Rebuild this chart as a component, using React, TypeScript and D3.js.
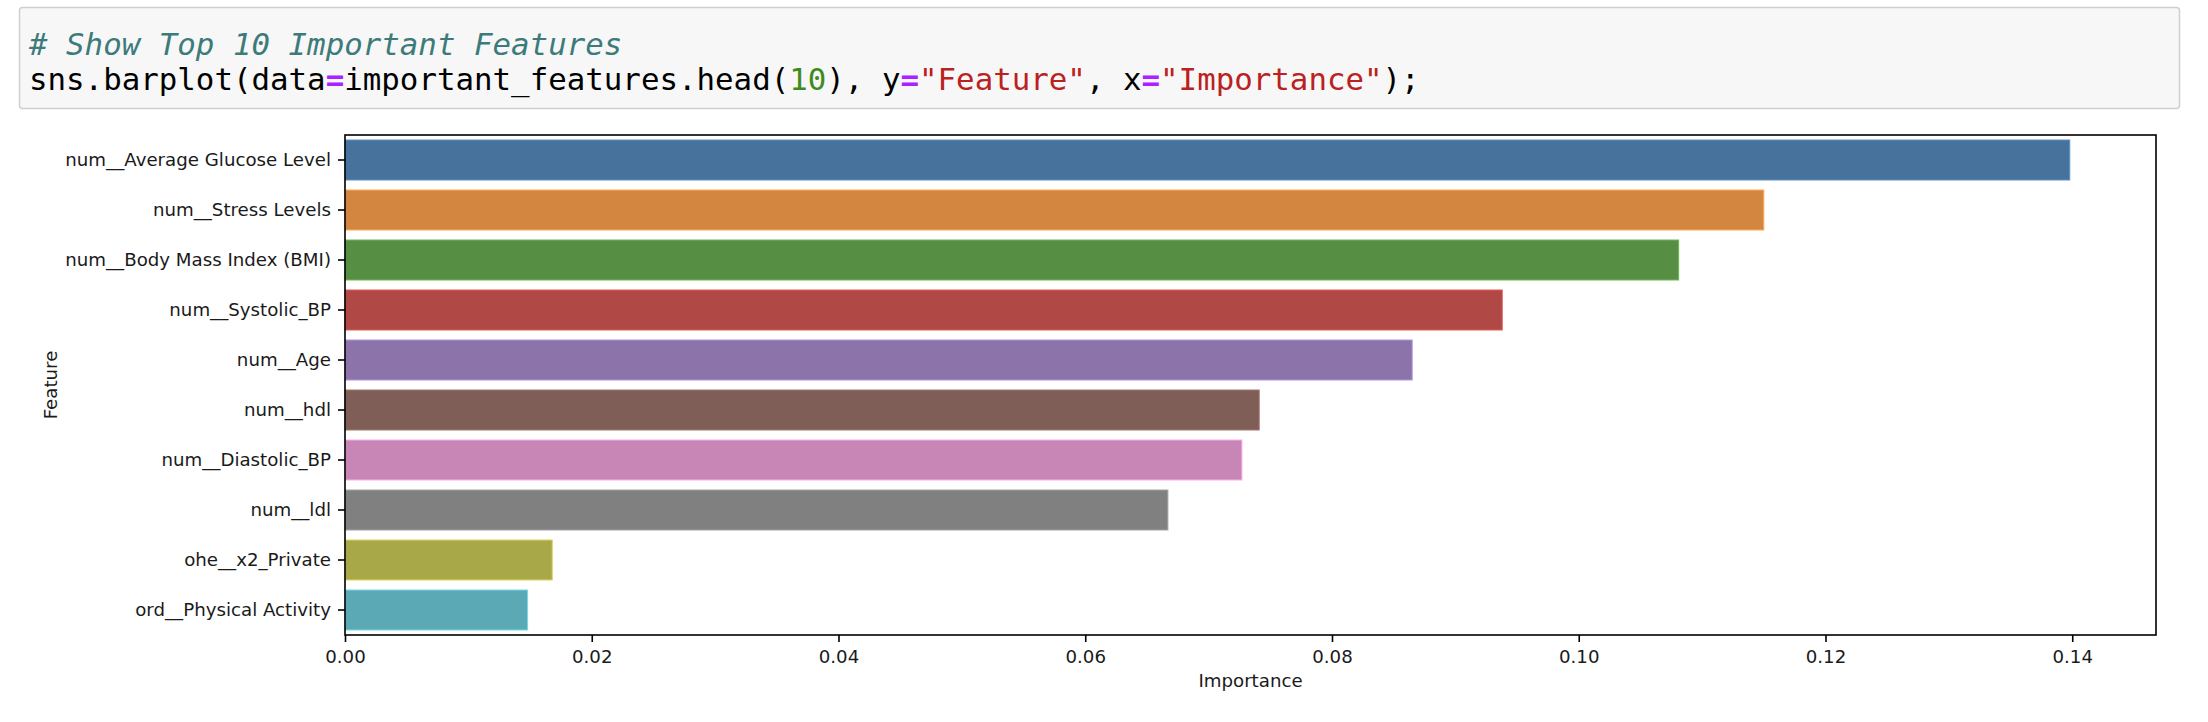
import { useEffect, useRef } from "react";
import * as d3 from "d3";

const features = [
  "num__Average Glucose Level",
  "num__Stress Levels",
  "num__Body Mass Index (BMI)",
  "num__Systolic_BP",
  "num__Age",
  "num__hdl",
  "num__Diastolic_BP",
  "num__ldl",
  "ohe__x2_Private",
  "ord__Physical Activity",
];
const importance = [0.1398, 0.115, 0.1081, 0.0938, 0.0865, 0.0741, 0.0727, 0.0667, 0.0168, 0.0148];
const barColors = [
  "#46729c", "#d28640", "#568f43", "#b04845", "#8c74ab",
  "#7e5e56", "#c886b7", "#808080", "#a9a848", "#5ca9b6",
];
const xTicks = [0, 0.02, 0.04, 0.06, 0.08, 0.1, 0.12, 0.14];

// pieces of the code cell: [text, colour, bold]
const commentLine = "# Show Top 10 Important Features";
const codeParts: [string, string, boolean][] = [
  ["sns.barplot(data", "#000", false],
  ["=", "#aa22ff", true],
  ["important_features.head(", "#000", false],
  ["10", "#3f8a1f", false],
  ["), y", "#000", false],
  ["=", "#aa22ff", true],
  ['"Feature"', "#ba2121", false],
  [", x", "#000", false],
  ["=", "#aa22ff", true],
  ['"Importance"', "#ba2121", false],
  [");", "#000", false],
];

const W = 2208;
const H = 722;
const left = 345, right = 2156, top = 135, bottom = 635;

export default function App() {
  const ref = useRef<SVGSVGElement>(null);

  useEffect(() => {
    const svg = d3.select(ref.current);
    svg.selectAll("*").remove();

    // code cell
    svg.append("rect")
      .attr("x", 19.5).attr("y", 7.5)
      .attr("width", 2160).attr("height", 101)
      .attr("rx", 3)
      .attr("fill", "#f7f7f7")
      .attr("stroke", "#cfcfcf")
      .attr("stroke-width", 1.5);

    const mono = '"DejaVu Sans Mono", monospace';
    svg.append("text")
      .attr("x", 29).attr("y", 55)
      .style("font", `italic 30.8px ${mono}`)
      .attr("fill", "#3d7b7b")
      .attr("xml:space", "preserve")
      .text(commentLine);

    const code = svg.append("text")
      .attr("x", 29).attr("y", 90)
      .style("font", `30.8px ${mono}`)
      .attr("xml:space", "preserve");
    code.selectAll("tspan")
      .data(codeParts)
      .join("tspan")
      .attr("fill", (d) => d[1])
      .attr("font-weight", (d) => (d[2] ? "bold" : "normal"))
      .text((d) => d[0]);

    // chart
    const x = d3.scaleLinear()
      .domain([0, (d3.max(importance) as number) * 1.05])
      .range([left, right]);
    const y = d3.scaleBand<string>()
      .domain(features)
      .range([top, bottom])
      .paddingInner(0.2)
      .paddingOuter(0.1);

    svg.append("g")
      .selectAll("rect")
      .data(features)
      .join("rect")
      .attr("x", x(0))
      .attr("y", (d) => y(d) as number)
      .attr("width", (d, i) => x(importance[i]) - x(0))
      .attr("height", y.bandwidth())
      .attr("fill", (d, i) => barColors[i])
      .attr("stroke", (d, i) => d3.color(barColors[i])!.brighter(0.7).formatHex())
      .attr("stroke-width", 1);

    const font = '18.2px "DejaVu Sans", sans-serif';

    const yAxis = svg.append("g")
      .attr("transform", `translate(${left},0)`)
      .call(d3.axisLeft(y).tickSize(7).tickPadding(7).tickSizeOuter(0));
    const xAxis = svg.append("g")
      .attr("transform", `translate(0,${bottom})`)
      .call(d3.axisBottom(x).tickValues(xTicks).tickFormat(d3.format(".2f")).tickSize(7).tickPadding(8).tickSizeOuter(0));
    [xAxis, yAxis].forEach((a) => {
      a.select(".domain").remove();
      a.selectAll(".tick line").attr("stroke", "#000").attr("stroke-width", 1.6);
      a.selectAll(".tick text").style("font", font).attr("fill", "#1a1a1a");
    });

    // frame
    svg.append("rect")
      .attr("x", left).attr("y", top)
      .attr("width", right - left).attr("height", bottom - top)
      .attr("fill", "none")
      .attr("stroke", "#000")
      .attr("stroke-width", 1.6);

    svg.append("text")
      .attr("x", (left + right) / 2).attr("y", 687)
      .attr("text-anchor", "middle")
      .style("font", font)
      .attr("fill", "#1a1a1a")
      .text("Importance");

    svg.append("text")
      .attr("transform", `translate(57,${(top + bottom) / 2}) rotate(-90)`)
      .attr("text-anchor", "middle")
      .style("font", font)
      .attr("fill", "#1a1a1a")
      .text("Feature");
  }, []);

  return (
    <div style={{ position: "absolute", left: 0, top: 0 }}>
      <svg ref={ref} width={W} height={H} style={{ display: "block", background: "#fff" }} />
    </div>
  );
}
